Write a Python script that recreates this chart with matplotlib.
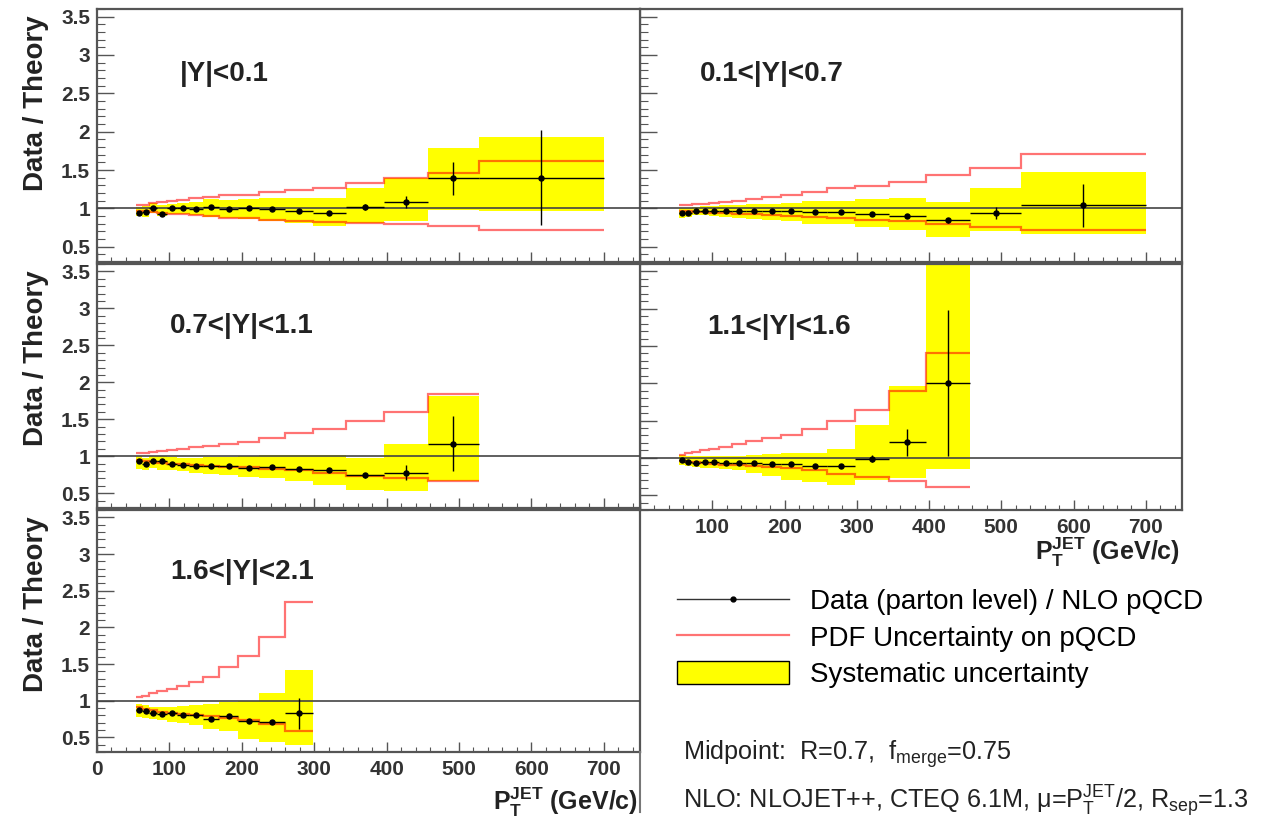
import numpy as np
import matplotlib
matplotlib.use("Agg")
import matplotlib.pyplot as plt
from matplotlib.lines import Line2D
from matplotlib.patches import Patch

plt.rcParams['font.family'] = ['Liberation Sans', 'DejaVu Sans']
plt.rcParams['mathtext.fontset'] = 'custom'
plt.rcParams['mathtext.rm'] = 'Liberation Sans'
plt.rcParams['mathtext.it'] = 'Liberation Sans'
plt.rcParams['mathtext.bf'] = 'Liberation Sans:bold'

# ---------------- data ----------------
edges = [54, 62, 72, 83, 96, 110, 127, 146, 169, 195, 224, 259, 298, 344, 396, 457, 527, 700]

# |Y|<0.1
y01_ratio = [0.94, 0.95, 1.01, 0.93, 1.00, 1.00, 0.99, 1.02, 0.99, 1.00, 0.99, 0.97, 0.935, 1.02, 1.08, 1.39, 1.40]
y01_stat = [0.01, 0.01, 0.01, 0.01, 0.01, 0.01, 0.01, 0.01, 0.01, 0.01, 0.015, 0.02, 0.025, 0.04, 0.08, 0.22, 0.62]
y01_sys_lo = [0.90, 0.89, 0.94, 0.90, 0.93, 0.92, 0.91, 0.89, 0.87, 0.86, 0.84, 0.81, 0.77, 0.81, 0.83, 0.98, 0.965]
y01_sys_hi = [1.02, 1.03, 1.07, 1.05, 1.06, 1.07, 1.08, 1.12, 1.11, 1.12, 1.13, 1.13, 1.14, 1.27, 1.39, 1.79, 1.93]
y01_pdf_hi = [1.04, 1.05, 1.07, 1.08, 1.10, 1.11, 1.13, 1.15, 1.17, 1.18, 1.21, 1.24, 1.27, 1.33, 1.39, 1.46, 1.62]
y01_pdf_lo = [0.97, 0.96, 0.95, 0.94, 0.93, 0.92, 0.91, 0.90, 0.88, 0.87, 0.85, 0.84, 0.82, 0.81, 0.80, 0.77, 0.72]

# 0.1<|Y|<0.7
y07_ratio = [0.935, 0.94, 0.965, 0.97, 0.97, 0.97, 0.96, 0.96, 0.96, 0.96, 0.95, 0.95, 0.926, 0.904, 0.843, 0.94, 1.04]
y07_stat = [0.01, 0.01, 0.01, 0.01, 0.01, 0.01, 0.01, 0.01, 0.01, 0.01, 0.01, 0.01, 0.015, 0.02, 0.03, 0.075, 0.28]
y07_sys_lo = [0.87, 0.89, 0.91, 0.91, 0.90, 0.89, 0.87, 0.86, 0.85, 0.83, 0.80, 0.79, 0.76, 0.72, 0.63, 0.70, 0.67]
y07_sys_hi = [1.01, 1.01, 1.02, 1.03, 1.03, 1.04, 1.05, 1.06, 1.06, 1.07, 1.09, 1.10, 1.12, 1.13, 1.08, 1.26, 1.48]
y07_pdf_hi = [1.04, 1.05, 1.06, 1.06, 1.07, 1.08, 1.10, 1.12, 1.15, 1.18, 1.21, 1.26, 1.29, 1.34, 1.43, 1.52, 1.71]
y07_pdf_lo = [0.96, 0.96, 0.95, 0.95, 0.94, 0.94, 0.93, 0.92, 0.91, 0.90, 0.89, 0.87, 0.85, 0.83, 0.80, 0.76, 0.72]

# 0.7<|Y|<1.1
y11_ratio = [0.93, 0.90, 0.935, 0.935, 0.90, 0.878, 0.865, 0.865, 0.865, 0.846, 0.855, 0.83, 0.81, 0.74, 0.78, 1.17]
y11_stat = [0.01, 0.01, 0.01, 0.01, 0.01, 0.01, 0.01, 0.01, 0.01, 0.01, 0.015, 0.02, 0.025, 0.03, 0.10, 0.37]
y11_sys_lo = [0.83, 0.82, 0.84, 0.82, 0.81, 0.80, 0.78, 0.76, 0.74, 0.72, 0.70, 0.66, 0.61, 0.54, 0.53, 0.67]
y11_sys_hi = [1.00, 0.98, 1.01, 1.00, 0.99, 0.98, 0.98, 0.99, 0.99, 1.00, 1.02, 1.02, 1.02, 0.98, 1.16, 1.81]
y11_pdf_hi = [1.04, 1.05, 1.06, 1.07, 1.08, 1.10, 1.12, 1.14, 1.16, 1.19, 1.24, 1.31, 1.37, 1.47, 1.60, 1.84]
y11_pdf_lo = [0.95, 0.93, 0.92, 0.91, 0.90, 0.89, 0.88, 0.87, 0.86, 0.85, 0.83, 0.81, 0.77, 0.73, 0.71, 0.67]

# 1.1<|Y|<1.6
y16_ratio = [0.97, 0.946, 0.93, 0.94, 0.94, 0.93, 0.93, 0.93, 0.92, 0.92, 0.89, 0.89, 0.99, 1.21, 2.0]
y16_stat = [0.01, 0.01, 0.01, 0.01, 0.01, 0.01, 0.01, 0.01, 0.01, 0.01, 0.015, 0.02, 0.05, 0.18, 0.98]
y16_sys_lo = [0.91, 0.89, 0.88, 0.87, 0.86, 0.85, 0.83, 0.80, 0.75, 0.70, 0.68, 0.63, 0.70, 0.73, 0.85]
y16_sys_hi = [1.04, 1.03, 1.02, 1.02, 1.02, 1.03, 1.03, 1.04, 1.05, 1.06, 1.07, 1.12, 1.44, 1.97, 3.70]
y16_pdf_hi = [1.04, 1.06, 1.08, 1.10, 1.12, 1.15, 1.19, 1.23, 1.26, 1.31, 1.38, 1.50, 1.64, 1.89, 2.41]
y16_pdf_lo = [0.96, 0.95, 0.94, 0.93, 0.92, 0.91, 0.90, 0.89, 0.88, 0.87, 0.83, 0.78, 0.74, 0.69, 0.61]

# 1.6<|Y|<2.1
y21_ratio = [0.877, 0.855, 0.83, 0.825, 0.83, 0.81, 0.80, 0.75, 0.79, 0.72, 0.71, 0.83]
y21_stat = [0.01, 0.01, 0.01, 0.01, 0.01, 0.01, 0.01, 0.01, 0.015, 0.02, 0.03, 0.21]
y21_sys_lo = [0.78, 0.77, 0.75, 0.73, 0.71, 0.69, 0.67, 0.62, 0.58, 0.48, 0.43, 0.40]
y21_sys_hi = [0.95, 0.94, 0.92, 0.92, 0.92, 0.93, 0.94, 0.95, 0.98, 1.00, 1.10, 1.42]
y21_pdf_hi = [1.05, 1.07, 1.10, 1.13, 1.16, 1.20, 1.25, 1.32, 1.46, 1.61, 1.87, 2.34]
y21_pdf_lo = [0.91, 0.89, 0.87, 0.85, 0.83, 0.82, 0.81, 0.79, 0.77, 0.73, 0.68, 0.58]

region_labels = ["|Y|<0.1", "0.1<|Y|<0.7", "0.7<|Y|<1.1", "1.1<|Y|<1.6", "1.6<|Y|<2.1"]
x_ticks = [0, 100, 200, 300, 400, 500, 600, 700]
y_ticks = [0.5, 1, 1.5, 2, 2.5, 3, 3.5]
y_tick_labels = ["0.5", "1", "1.5", "2", "2.5", "3", "3.5"]

legend_labels = ["Data (parton level) / NLO pQCD", "PDF Uncertainty on pQCD", "Systematic uncertainty"]

# ---------------- figure ----------------
W, H = 1266, 824
fig = plt.figure(figsize=(W / 100, H / 100), dpi=100)

def px_rect(x0, x1, ytop, ybot):
    return [x0 / W, 1 - ybot / H, (x1 - x0) / W, (ybot - ytop) / H]

frame_col = '#555555'
pdf_col = (1.0, 0.0, 0.0)

def draw_panel(rect, ratio, stat, slo, shi, phi, plo, label, label_x, ylabels, xlabels):
    ax = fig.add_axes(rect)
    n = len(ratio)
    e = np.array(edges[:n + 1], dtype=float)
    w = np.diff(e)
    c = 0.5 * (e[:-1] + e[1:])
    slo = np.array(slo); shi = np.array(shi)
    ax.bar(e[:-1], shi - slo, bottom=slo, width=w, align='edge',
           color='#ffff00', linewidth=0, zorder=1)
    ax.stairs(phi, e, baseline=None, color=pdf_col, alpha=0.55, lw=1.6, zorder=2)
    ax.stairs(plo, e, baseline=None, color=pdf_col, alpha=0.55, lw=1.6, zorder=2)
    ax.axhline(1.0, color='#444444', lw=1.2, zorder=3)
    ax.errorbar(c, ratio, xerr=w / 2, yerr=stat, fmt='o', ms=3.6,
                color='black', ecolor='black', elinewidth=1.0, capsize=0, zorder=4)
    ax.set_xlim(0, 750)
    ax.set_ylim(0.3, 3.6)
    ax.set_xticks(x_ticks)
    ax.set_xticks(np.arange(0, 751, 20), minor=True)
    ax.set_yticks(y_ticks)
    ax.set_yticks(np.arange(0.3, 3.61, 0.1), minor=True)
    ax.tick_params(axis='y', which='major', direction='in', length=12, width=1.0,
                   color=frame_col, labelsize=15, pad=5, labelcolor='#333333')
    ax.tick_params(axis='y', which='minor', direction='in', length=6, width=0.8, color=frame_col)
    ax.tick_params(axis='x', which='major', direction='in', length=7, width=1.0,
                   color=frame_col, labelsize=15, pad=6, labelcolor='#333333')
    ax.tick_params(axis='x', which='minor', direction='in', length=3.5, width=0.8, color=frame_col)
    ax.tick_params(top=False, right=False)
    if ylabels:
        ax.set_yticklabels(y_tick_labels, fontweight='bold')
        ax.set_ylabel("Data / Theory", fontsize=20, fontweight='bold', loc='top', color='#222222')
        ax.yaxis.set_label_coords(-0.088, 0.975)
    else:
        ax.set_yticklabels([])
    if xlabels is None:
        ax.set_xticklabels([])
    else:
        ax.set_xticklabels(xlabels, fontweight='bold')
    for s in ax.spines.values():
        s.set_color(frame_col)
        s.set_linewidth(1.6)
    ax.text(label_x, 0.745, label, transform=ax.transAxes, fontsize=20, fontweight='bold',
            ha='left', va='center', color='#222222', zorder=6)
    return ax

xl_full = [str(t) for t in x_ticks]
xl_right = [''] + [str(t) for t in x_ticks[1:]]

ax5 = draw_panel(px_rect(97, 640, 510, 752), y21_ratio, y21_stat, y21_sys_lo, y21_sys_hi,
                 y21_pdf_hi, y21_pdf_lo, region_labels[4], 0.134, True, xl_full)
ax4 = draw_panel(px_rect(640, 1182, 264, 510), y16_ratio, y16_stat, y16_sys_lo, y16_sys_hi,
                 y16_pdf_hi, y16_pdf_lo, region_labels[3], 0.124, False, xl_right)
ax3 = draw_panel(px_rect(97, 640, 264, 508), y11_ratio, y11_stat, y11_sys_lo, y11_sys_hi,
                 y11_pdf_hi, y11_pdf_lo, region_labels[2], 0.134, True, None)
ax2 = draw_panel(px_rect(640, 1182, 9, 262), y07_ratio, y07_stat, y07_sys_lo, y07_sys_hi,
                 y07_pdf_hi, y07_pdf_lo, region_labels[1], 0.111, False, None)
ax1 = draw_panel(px_rect(97, 640, 9, 262), y01_ratio, y01_stat, y01_sys_lo, y01_sys_hi,
                 y01_pdf_hi, y01_pdf_lo, region_labels[0], 0.153, True, None)

# x-axis titles
xtitle = r'$\mathbf{P_{T}^{JET}}$ (GeV/c)'
fig.text(638 / W, 1 - 810 / H, xtitle, fontsize=18, fontweight='bold', ha='right',
         va='baseline', color='#222222')
fig.text(1180 / W, 1 - 560 / H, xtitle, fontsize=18, fontweight='bold', ha='right',
         va='baseline', color='#222222')

# pad border below bottom-left panel
fig.add_artist(Line2D([640 / W, 640 / W], [1 - 752 / H, 1 - 812 / H], color='#777777', lw=1.5))

# legend
handles = [Line2D([], [], color='#333333', lw=1.0, marker='o', ms=3.5, mfc='black', mec='black'),
           Line2D([], [], color=pdf_col, alpha=0.55, lw=1.6),
           Patch(facecolor='#ffff00', edgecolor='black', lw=1.0)]
fig.legend(handles, legend_labels, loc='upper left', bbox_to_anchor=(677 / W, 1 - 588 / H),
           frameon=False, fontsize=20, handlelength=4.05, handleheight=0.9,
           handletextpad=0.75, labelspacing=0.34, borderpad=0, borderaxespad=0)

fig.text(683 / W, 1 - 760 / H, r'Midpoint:  R=0.7,  f$_{\mathrm{merge}}$=0.75',
         fontsize=18.2, ha='left', va='baseline', color='#222222')
fig.text(683 / W, 1 - 808 / H,
         r'NLO: NLOJET++, CTEQ 6.1M, μ=P$_{\mathrm{T}}^{\mathrm{JET}}$/2, R$_{\mathrm{sep}}$=1.3',
         fontsize=18.2, ha='left', va='baseline', color='#222222')

fig.savefig("out.png", dpi=100)
